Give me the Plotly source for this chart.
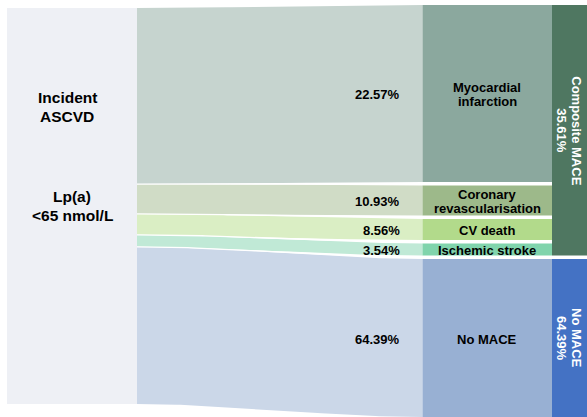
import numpy as np
import plotly.graph_objects as go

# ---------------- data ----------------
source_title = ["Incident", "ASCVD"]
source_group = ["Lp(a)", "<65 nmol/L"]
outcomes = ["Myocardial\ninfarction", "Coronary\nrevascularisation", "CV death", "Ischemic stroke", "No MACE"]
outcome_pct = [22.57, 10.93, 8.56, 3.54, 64.39]
groups = ["Composite MACE", "No MACE"]
group_pct = [35.61, 64.39]
outcome_group = [0, 0, 0, 0, 1]

# ---------------- layout / style ----------------
W, H = 587, 417
# relative drawn band sizes (as drawn in the original graphic)
band_size = [177, 30, 21, 12, 158]
src_x0, src_x1 = 7, 137
mid_x0, mid_x1 = 422.5, 552
grp_x0, grp_x1 = 552, 590
src_top, src_bot = 8, 404
mid_top = 5
gap = 3.5

col_src = "#EEF0F5"
col_flow = ["#C6D4CF", "#D0DCC6", "#DAEEC4", "#C0E9D6", "#CBD7E8"]
col_node = ["#8BA89E", "#9DB98A", "#B2DA8B", "#80D4AC", "#98B0D3"]
col_grp = ["#4F7761", "#4472C4"]
FONT = "Liberation Sans, Arial, sans-serif"

fig = go.Figure()

def rect(x0, x1, y0, y1, color):
    fig.add_trace(go.Scatter(x=[x0, x1, x1, x0, x0], y=[y0, y0, y1, y1, y0],
                             mode="lines", fill="toself", fillcolor=color,
                             line=dict(width=0), hoverinfo="skip", showlegend=False))

# positions computed from band sizes
sizes = np.array(band_size, dtype=float)
scale_l = (src_bot - src_top) / sizes.sum()
left_edges = src_top + np.concatenate([[0], np.cumsum(sizes * scale_l)])
right_tops = mid_top + np.concatenate([[0], np.cumsum(sizes[:-1] + gap)])
right_bots = right_tops + sizes

xs = np.linspace(src_x1, mid_x0, 80)
t = (xs - src_x1) / (mid_x0 - src_x1)
s = 3 * t**2 - 2 * t**3

# source node
rect(src_x0, src_x1, src_top, src_bot, col_src)

# flows
tops, bots = [], []
for i in range(len(outcomes)):
    ytop = left_edges[i] + (right_tops[i] - left_edges[i]) * s
    ybot = left_edges[i + 1] + (right_bots[i] - left_edges[i + 1]) * s
    tops.append(ytop); bots.append(ybot)
    fig.add_trace(go.Scatter(x=np.concatenate([xs, xs[::-1]]), y=np.concatenate([ytop, ybot[::-1]]),
                             mode="lines", fill="toself", fillcolor=col_flow[i],
                             line=dict(width=0), hoverinfo="skip", showlegend=False))
# thin white separators between flows
for i in range(len(outcomes) - 1):
    fig.add_trace(go.Scatter(x=xs, y=(bots[i] + tops[i + 1]) / 2, mode="lines",
                             line=dict(color="white", width=1.3), hoverinfo="skip", showlegend=False))

# middle nodes
for i in range(len(outcomes)):
    rect(mid_x0, mid_x1, right_tops[i], right_bots[i], col_node[i])

# group nodes
for g in range(len(groups)):
    idx = [i for i, k in enumerate(outcome_group) if k == g]
    rect(grp_x0, grp_x1, right_tops[idx[0]], right_bots[idx[-1]], col_grp[g])

ann = []
def txt(x, y, s_, size=13, color="black", anchor="center", angle=0):
    ann.append(dict(x=x, y=y, text=s_, showarrow=False, xanchor=anchor, yanchor="middle",
                    textangle=angle, font=dict(family=FONT, size=size, color=color, weight="bold")))

# source labels
src_c = (src_x0 + src_x1) / 2
for j, line in enumerate(source_title):
    txt(src_c - 5, src_top + (src_bot - src_top) * 0.25 - 9.5 + 19 * j, line, size=15.5)
for j, line in enumerate(source_group):
    txt(src_c, (src_top + src_bot) / 2 - 9.5 + 19 * j, line, size=15.5)

# outcome labels & percentages
mid_c = (mid_x0 + mid_x1) / 2
for i, name in enumerate(outcomes):
    yc = (right_tops[i] + right_bots[i]) / 2
    lines = name.split("\n")
    n = len(lines)
    for j, line in enumerate(lines):
        txt(mid_c, yc + 1 + (j - (n - 1) / 2) * 13.5, line)
    txt(mid_x0 - 21, yc + 1, f"{outcome_pct[i]:.2f}%", anchor="right")

# group labels (rotated)
for g in range(len(groups)):
    idx = [i for i, k in enumerate(outcome_group) if k == g]
    yc = (right_tops[idx[0]] + min(right_bots[idx[-1]], H)) / 2
    txt(577, yc, groups[g], color="white", angle=90)
    txt(562, yc, f"{group_pct[g]:.2f}%", color="white", angle=90)

fig.update_layout(
    width=W, height=H, margin=dict(l=0, r=0, t=0, b=0),
    paper_bgcolor="white", plot_bgcolor="white",
    xaxis=dict(range=[0, W], visible=False, fixedrange=True),
    yaxis=dict(range=[H, 0], visible=False, fixedrange=True),
    annotations=ann, showlegend=False,
)
fig.write_html("out.html", config={"displayModeBar": False, "staticPlot": True},
               post_script="document.body.style.margin='0';")
